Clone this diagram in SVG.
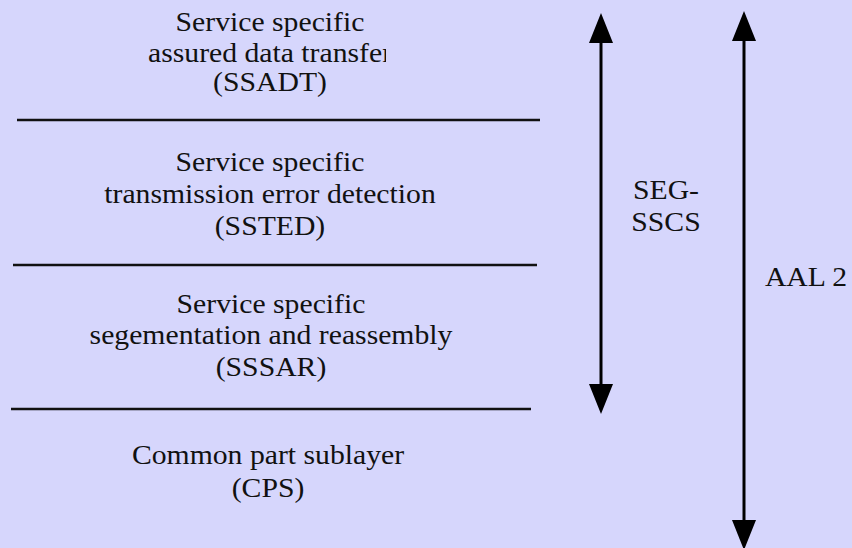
<svg xmlns="http://www.w3.org/2000/svg" width="852" height="548" viewBox="0 0 852 548">
  <style>
    text { font-family: 'Liberation Serif', 'Times New Roman', serif; }
    .lbl { font-size: 27px; fill: #111; text-anchor: middle; }
    .sep { stroke: #111; stroke-width: 2.5; }
    .span { stroke: #000; stroke-width: 3; fill: none; marker-start: url(#head); marker-end: url(#head); }
  </style>
  <defs>
    <marker id="head" markerUnits="userSpaceOnUse" markerWidth="30" markerHeight="24" viewBox="0 0 30 24" refX="0" refY="12" orient="auto-start-reverse">
      <path d="M0,0 L30,12 L0,24 z" fill="#000"/>
    </marker>
    <clipPath id="cut-r">
      <rect x="0" y="0" width="386" height="120"/>
    </clipPath>
  </defs>

  <rect x="0" y="0" width="852" height="548" fill="#d6d6fc"/>

  <!-- protocol sublayers, top to bottom -->
  <g id="ssadt">
    <g transform="translate(270,0) scale(1.1,1)">
      <text class="lbl" x="0" y="31">Service specific</text>
      <text class="lbl" x="0" y="91">(SSADT)</text>
    </g>
    <g clip-path="url(#cut-r)">
      <text class="lbl" x="0" y="62" transform="translate(270,0) scale(1.1,1)">assured data transfer</text>
    </g>
  </g>

  <g id="ssted">
    <g transform="translate(270,0) scale(1.1,1)">
      <text class="lbl" x="0" y="171">Service specific</text>
      <text class="lbl" x="0" y="203">transmission error detection</text>
      <text class="lbl" x="0" y="235">(SSTED)</text>
    </g>
  </g>

  <g id="sssar">
    <g transform="translate(271,0) scale(1.1,1)">
      <text class="lbl" x="0" y="313">Service specific</text>
      <text class="lbl" x="0" y="344">segementation and reassembly</text>
      <text class="lbl" x="0" y="376">(SSSAR)</text>
    </g>
  </g>

  <g id="cps">
    <g transform="translate(268,0) scale(1.1,1)">
      <text class="lbl" x="0" y="464">Common part sublayer</text>
      <text class="lbl" x="0" y="497">(CPS)</text>
    </g>
  </g>

  <!-- boundaries between sublayers -->
  <g id="boundaries">
    <line class="sep" x1="17" y1="120" x2="540" y2="120"/>
    <line class="sep" x1="13" y1="265" x2="537" y2="265"/>
    <line class="sep" x1="11" y1="409" x2="531" y2="409"/>
  </g>

  <!-- extent labels -->
  <g id="seg-sscs">
    <g transform="translate(666,0) scale(1.1,1)">
      <text class="lbl" x="0" y="199">SEG-</text>
      <text class="lbl" x="0" y="231">SSCS</text>
    </g>
  </g>

  <g id="aal2">
    <g transform="translate(806,0) scale(1.1,1)">
      <text class="lbl" x="0" y="286">AAL 2</text>
    </g>
  </g>

  <!-- double-headed extent arrows -->
  <g id="connectors">
    <line class="span" x1="601" y1="43" x2="601" y2="384"/>
    <line class="span" x1="744" y1="41" x2="744" y2="520"/>
  </g>
</svg>
